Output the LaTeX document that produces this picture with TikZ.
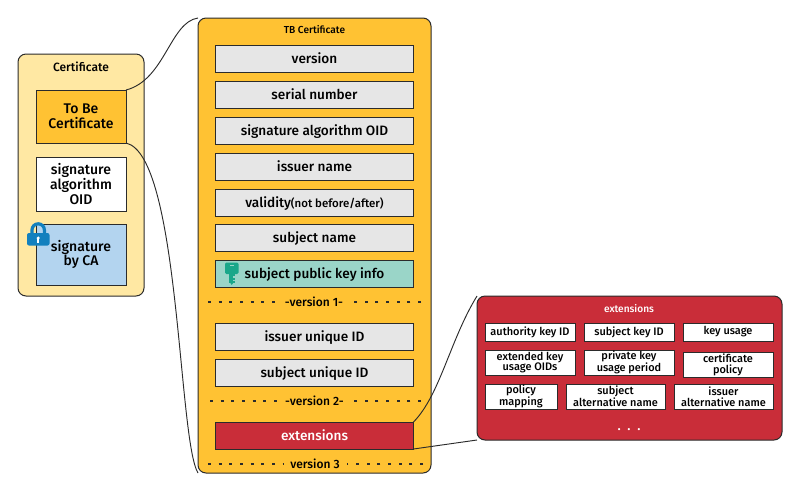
\documentclass[tikz,border=0pt]{standalone}
\usepackage{fontspec}
\setmainfont{Fira Sans}[UprightFont=* Medium]
\definecolor{ylight}{HTML}{FFE8A3}
\definecolor{yorange}{HTML}{FFC233}
\definecolor{greybox}{HTML}{E6E6E6}
\definecolor{tealbox}{HTML}{9AD5C8}
\definecolor{bluebox}{HTML}{B3D4EF}
\definecolor{redbox}{HTML}{C92D39}
\definecolor{lineclr}{HTML}{2B2B2B}
\definecolor{lockblue}{HTML}{1380BE}
\definecolor{keyteal}{HTML}{19A78A}
\newcommand{\pxbox}[7]{\node[#1,minimum width={(#4-#2)*0.75pt},minimum height={(#5-#3)*0.75pt},anchor=north west] (#6) at (#2,#3) {#7};}
\tikzset{
  base/.style={draw=lineclr,line width=0.75pt,inner sep=0pt,outer sep=0pt,align=center,text=black,font=\fontsize{10.5}{11}\selectfont},
  outer/.style={base,rounded corners=6pt},
  field/.style={base,font=\fontsize{10.2}{11}\selectfont,text height=9.2pt,text depth=1pt},
  graybox/.style={field,fill=greybox},
  smallbox/.style={base,fill=white,font=\fontsize{8.2}{8}\selectfont},
  link/.style={draw=lineclr,line width=0.7pt},
  verline/.style={draw=lineclr,line width=1.1pt,dash pattern=on 2.2pt off 5.8pt},
  verlabel/.style={inner sep=0pt,font=\fontsize{9}{11}\selectfont},
  titlelabel/.style={inner sep=0pt,font=\fontsize{7.6}{9}\selectfont}
}
\begin{document}
\begin{tikzpicture}[x=0.75pt,y=-0.75pt]
\useasboundingbox (0,0) rectangle (800,494);
% outer containers
\pxbox{outer,fill=ylight}{18}{54}{144}{296}{cert}{}
\pxbox{outer,fill=yorange}{198}{18}{431}{473}{tb}{}
\pxbox{outer,fill=redbox}{477}{296}{782}{440}{ext}{}
% titles
\node[titlelabel] (certtitle) at (81,67) {\fontsize{9}{10}\selectfont Certificate};
\node[titlelabel] (tbtitle) at (314.5,30) {TB Certificate};
\node[titlelabel,text=white] (exttitle) at (629,309) {extensions};
% certificate parts
\pxbox{base,fill=yorange}{36}{90}{126}{143}{tbe}{To Be\\Certificate}
\pxbox{base,fill=white}{36}{157}{126}{211}{sigalg}{signature\\algorithm\\OID}
\pxbox{base,fill=bluebox}{36}{224}{126}{285}{sigca}{signature\\by CA}
% TB fields
\pxbox{graybox}{215.5}{45}{413.5}{72}{version}{version}
\pxbox{graybox}{215.5}{81}{413.5}{108}{serial}{serial number}
\pxbox{graybox}{215.5}{117}{413.5}{144}{sigoid}{signature algorithm OID}
\pxbox{graybox}{215.5}{153}{413.5}{180}{issuer}{issuer name}
\pxbox{graybox}{215.5}{189}{413.5}{216}{validity}{validity{\fontsize{8.6}{10}\selectfont(not before/after)}}
\pxbox{graybox}{215.5}{224}{413.5}{251}{subject}{subject name}
\pxbox{field,fill=tealbox}{215.5}{260}{413.5}{287}{spki}{subject public key info}
\pxbox{graybox}{215.5}{323}{413.5}{350}{issuerid}{issuer unique ID}
\pxbox{graybox}{215.5}{359}{413.5}{386}{subjectid}{subject unique ID}
\pxbox{field,fill=redbox,text=white}{215.5}{422}{413.5}{449}{extbar}{extensions}
% version separators
\node[verlabel] (v1) at (314,302) {-version 1-};
\node[verlabel] (v2) at (314.5,401) {-version 2-};
\node[verlabel] (v3) at (315,464) {version 3};
\coordinate (v1l) at (208,302); \coordinate (v1r) at (421,302);
\coordinate (v2l) at (210,401); \coordinate (v2r) at (421,401);
\coordinate (v3l) at (208,464); \coordinate (v3r) at (423,464);
\draw[verline] (v1l) -- ([xshift=-3pt]v1.west); \draw[verline] (v1r) -- ([xshift=3pt]v1.east);
\draw[verline] (v2l) -- ([xshift=-3pt]v2.west); \draw[verline] (v2r) -- ([xshift=3pt]v2.east);
\draw[verline] (v3l) -- ([xshift=-5pt]v3.west); \draw[verline] (v3r) -- ([xshift=5pt]v3.east);
% extension parts
\pxbox{smallbox}{485}{323}{575}{341}{e1}{authority key ID}
\pxbox{smallbox}{584}{323}{674}{341}{e2}{subject key ID}
\pxbox{smallbox}{683}{323}{773}{341}{e3}{key usage}
\pxbox{smallbox}{485}{350}{575}{375}{e4}{extended key\\usage OIDs}
\pxbox{smallbox}{584}{350}{674}{375}{e5}{private key\\usage period}
\pxbox{smallbox}{683}{352}{773}{377}{e6}{certificate\\policy}
\pxbox{smallbox}{485}{384}{557}{409}{e7}{policy\\mapping}
\pxbox{smallbox}{566}{384}{665}{409}{e8}{subject\\alternative name}
\pxbox{smallbox}{674}{384}{773}{409}{e9}{issuer\\alternative name}
\node[titlelabel,text=white,font=\fontsize{10}{10}\selectfont] (extdots) at (629,430) {.~~.~~.};
% connectors
\draw[link] (tbe.north east) .. controls (165,80) and (170,22) .. (tb.north west);
\draw[link] (tbe.south east) .. controls (180,155) and (178,440) .. (tb.south west);
\draw[link] (extbar.north east) .. controls (440,395) and (450,340) .. (ext.north west);
\draw[link] (extbar.south east) -- (ext.south west);
% lock
\fill[lockblue,rounded corners=1.5pt] (27,233) rectangle (49.5,245.5);
\draw[lockblue,line width=2.4pt] (32,234) -- (32,230) arc[start angle=180,end angle=360,radius=6.2] -- (44.4,234);
\fill[white] (38.2,238) circle (1.7);
\fill[white] (37.4,238) rectangle (39,243);
% key
\fill[keyteal,rounded corners=1pt] (225,262.5) rectangle (238.5,274);
\fill[keyteal] (229,272) rectangle (234.5,283);
\fill[keyteal] (229,281) -- (231.7,285) -- (234.5,281) -- cycle;
\fill[tealbox] (232.5,276) rectangle (234.5,277.5);
\fill[tealbox] (232.5,279.5) rectangle (234.5,281);
\fill[tealbox] (229.5,265) rectangle (234,266.3);
\end{tikzpicture}
\end{document}
